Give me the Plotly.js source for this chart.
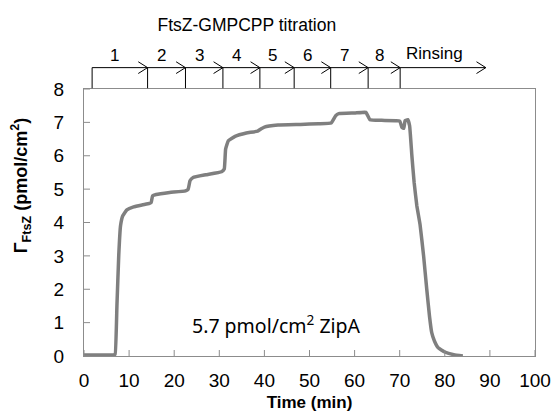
<!DOCTYPE html>
<html><head><meta charset="utf-8">
<script src="https://cdn.plot.ly/plotly-3.0.1.min.js"></script>
<style>html,body{margin:0;padding:0;background:#fff}#c{width:551px;height:416px}</style>
</head><body><div id="c"></div>
<script>
// Time (min) and surface density (pmol/cm2)
const timeMin = [0,3,6.5,6.9,7.3,7.7,8.1,8.6,9.5,11,13,14.5,14.9,15.2,16,19,22.5,23.1,23.5,24.2,27,30.5,31.1,31.4,32,33.5,36,38.5,39.2,40,43,48,52,54.8,55.8,56.5,60,62.5,63.4,66,70,70.5,70.9,71.2,71.8,72.2,72.7,73.2,73.8,74.5,75.3,76,76.6,77.1,77.7,78.5,80,82,84];
const gammaFtsZ = [0.03,0.03,0.03,0.05,1.5,3.0,3.9,4.2,4.38,4.47,4.53,4.57,4.6,4.8,4.84,4.9,4.95,5.0,5.25,5.35,5.43,5.52,5.6,6.2,6.45,6.58,6.68,6.74,6.8,6.86,6.92,6.94,6.96,6.98,7.2,7.26,7.28,7.3,7.08,7.06,7.04,6.85,6.82,7.05,7.08,6.9,6.0,5.2,4.5,3.95,3.0,2.0,1.2,0.7,0.45,0.25,0.12,0.04,0.0];

// Injection step boundaries (min) and labels
const stepStarts = [1.8,14.1,22.5,30.8,39.0,46.6,54.7,63.0,70.1];
const stepEnds = [14.1,22.5,30.8,39.0,46.6,54.7,63.0,70.1,89.1];
const stepLabels = ["1","2","3","4","5","6","7","8","Rinsing"];

// Axis tick values
const xTickVals = [0,10,20,30,40,50,60,70,80,90,100];
const yTickVals = [0,1,2,3,4,5,6,7,8];

const lineY = 1.08, headDx = 2.07, headDy = 0.022;
const shapes = [];
const annotations = [];
const blackLine = {color:'#000', width:1};
const tickLine = {color:'#8c8c8c', width:1};
stepStarts.forEach((s,i)=>{
  const e = stepEnds[i];
  shapes.push({type:'line', xref:'x', yref:'paper', x0:s, x1:s, y0:1.003, y1:lineY, line:blackLine});
  shapes.push({type:'line', xref:'x', yref:'paper', x0:s, x1:e, y0:lineY, y1:lineY, line:blackLine});
  shapes.push({type:'path', xref:'x', yref:'paper',
    path:`M ${e-headDx},${lineY+headDy} L ${e},${lineY} L ${e-headDx},${lineY-headDy}`, line:blackLine});
  annotations.push({xref:'x', yref:'paper', x:(s+e)/2, xshift: i===8?-9:-5, y:lineY, yanchor:'bottom', yshift: i===8?3:1,
    text:stepLabels[i], showarrow:false, font:{family:'Liberation Sans, Arial', size:17, color:'#000'}});
});
// inside tick marks
xTickVals.forEach(v=>shapes.push({type:'line', xref:'x', yref:'paper', x0:v, x1:v, y0:0, y1:6/267, line:tickLine}));
yTickVals.forEach(v=>shapes.push({type:'line', xref:'paper', yref:'y', x0:0, x1:6/451, y0:v, y1:v, line:tickLine}));

// y-axis title (placed as annotation to match its off-centre position)
annotations.push({xref:'paper', yref:'paper', x:-0.139, y:0.637, xanchor:'center', yanchor:'middle', textangle:-90,
  text:'<b>Γ<sub>FtsZ</sub> (pmol/cm<sup>2</sup>)</b>', showarrow:false,
  font:{family:'Liberation Sans, Arial', size:18, color:'#000'}});

annotations.push({xref:'x', yref:'y', x:42.7, y:0.93, text:'5.7 pmol/cm<sup>2</sup> ZipA', showarrow:false,
  font:{family:'Noto Sans', size:19.5, color:'#000'}});

const trace = {x: timeMin, y: gammaFtsZ, type:'scatter', mode:'lines',
  line:{color:'#7f7f7f', width:3.5, shape:'spline', smoothing:0.3}, hoverinfo:'skip'};

const axisCommon = {showline:true, linecolor:'#8c8c8c', linewidth:1, mirror:true, ticks:'outside',
  tickcolor:'rgba(0,0,0,0)', showgrid:false, zeroline:false,
  tickfont:{family:'Liberation Sans, Arial', size:19, color:'#000'}};

const layout = {
  width:551, height:416, margin:{l:84, r:16, t:89, b:60},
  paper_bgcolor:'#fff', plot_bgcolor:'#fff', showlegend:false,
  title:{text:'FtsZ-GMPCPP titration', x:0.448, xanchor:'center', y:0.94, yanchor:'middle', yref:'container',
    font:{family:'Liberation Sans, Arial', size:17.5, color:'#000'}},
  xaxis: Object.assign({}, axisCommon, {range:[0,100], tickvals:xTickVals, ticklen:7,
    title:{text:'Time (min)', standoff:6, font:{family:'Liberation Sans, Arial', size:17, color:'#000', weight:'bold'}}}),
  yaxis: Object.assign({}, axisCommon, {range:[0,8], tickvals:yTickVals, ticklen:15}),
  shapes: shapes, annotations: annotations
};
Plotly.newPlot('c', [trace], layout, {staticPlot:true, displayModeBar:false});
</script></body></html>
